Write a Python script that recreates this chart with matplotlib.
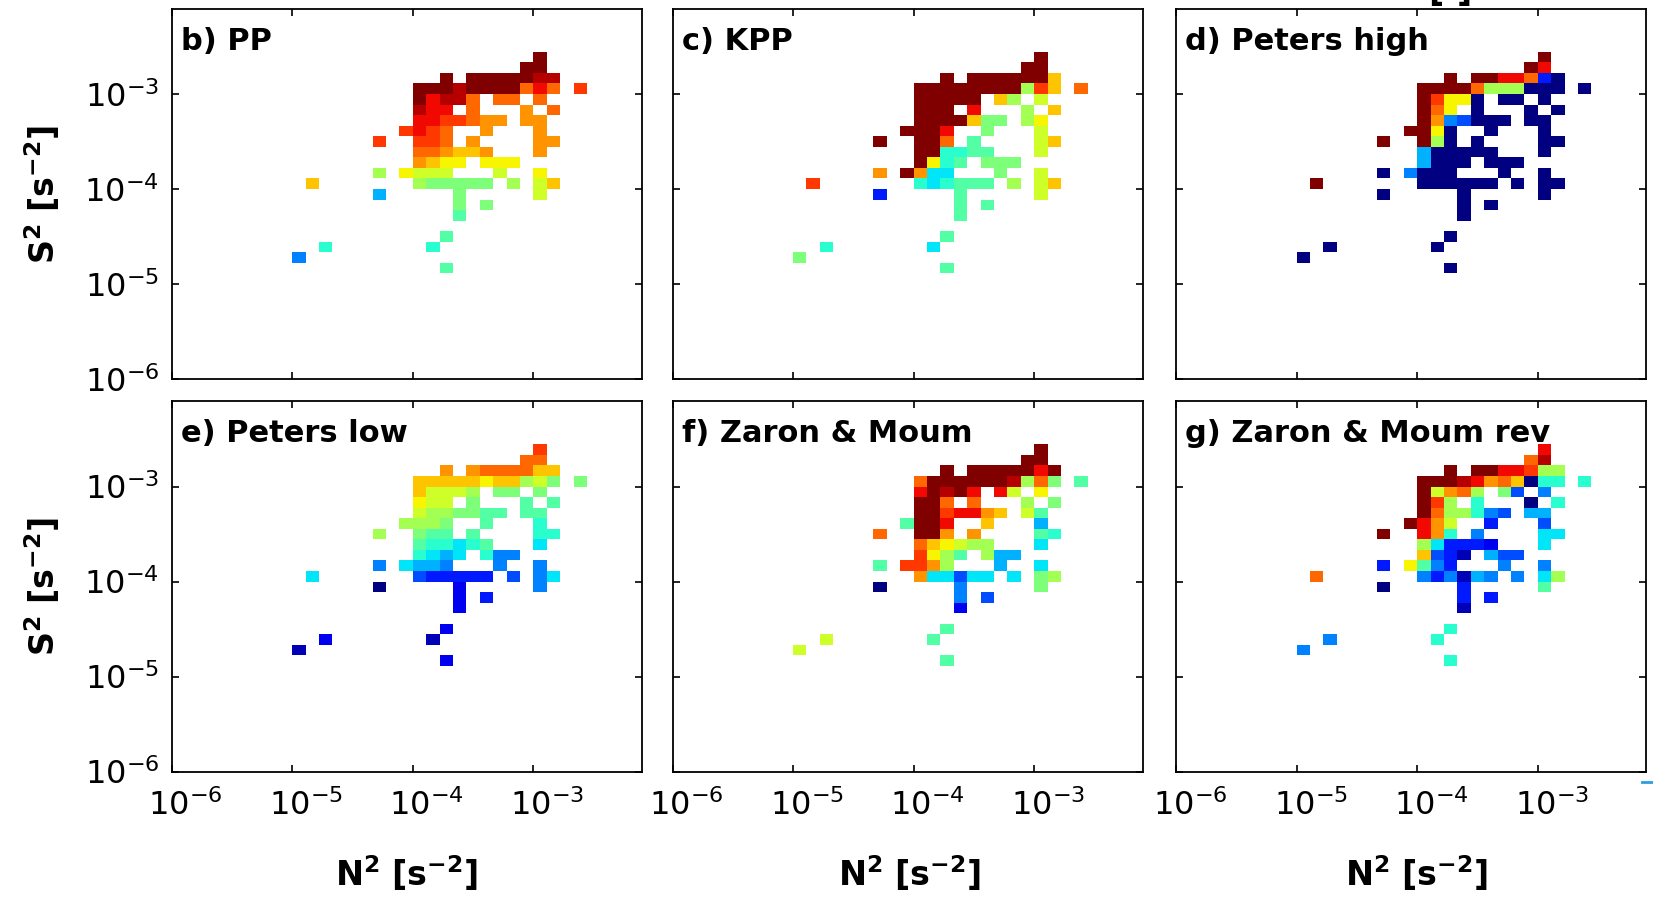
import numpy as np
import matplotlib
matplotlib.use('Agg')
import matplotlib.pyplot as plt
import matplotlib.transforms as mtrans
from matplotlib.lines import Line2D
from matplotlib.ticker import NullLocator

plt.rcParams['font.family'] = 'DejaVu Sans'
plt.rcParams['mathtext.fontset'] = 'dejavusans'

##############
##  Data    ##
##############
# bins are log10 spaced, 9 per decade: edge k -> 10**(-6 + k/9)
# columns are N2 bins k=9..30, rows are S2 bins k=30 (top) .. k=10 (bottom)
# each character is the colour level 0..K (base 36, divided by 20 -> 0..1 on jet), '.' = empty bin
col_bins = np.arange(9, 32)
row_bins = np.arange(10, 32)

pp = ["..................K...",
      ".................KK...",
      "...........K.KKKKKJJ..",
      ".........KKKJKKKKGIG.H",
      ".........KIJJG.GG.G...",
      ".........JII.G...F.G..",
      ".........IIHHGFF.FF...",
      "........HIHG..F...F...",
      "......H..HHG.F....FF..",
      ".........GGFEEF...F...",
      ".........FEDD.DDD.....",
      "......B.DCCC...C..D...",
      ".E.......BAAAAA.B.CE..",
      "......6.....A.....C...",
      "............A.A.......",
      "............9.........",
      "......................",
      "...........9..........",
      "..8.......8...........",
      "5.....................",
      "...........9.........."]

kpp = ["..................K...",
       ".................KK...",
       "...........K.KKKKKKE..",
       ".........KKKKKKKKBHE.G",
       ".........KKKKK.EB.C...",
       ".........KKK.I...B.E..",
       ".........KKKKEAA.BD...",
       "........KKKI..A...C...",
       "......K..KKG.9....CE..",
       ".........KK8899...C...",
       ".........KD89.AAA.....",
       "......F.KF77...A..C...",
       ".H.......878999.B.CE..",
       "......3.....9.....C...",
       "............9.9.......",
       "............9.........",
       "......................",
       "...........9..........",
       "..8.......7...........",
       "A.....................",
       "...........9.........."]

peters_high = ["..................K...",
               ".................KI...",
               "...........K.KKIIG30..",
               ".........KKKKGBBB000.0",
               ".........KHDD0.00.0...",
               ".........KGD.0...0.0..",
               ".........KF54000.00...",
               "........KKD0..0...0...",
               "......K..KB0.0....00..",
               ".........600000...0...",
               ".........6000.000.....",
               "......0.5000...0..0...",
               ".K.......000000.0.00..",
               "......0.....0.....0...",
               "............0.0.......",
               "............0.........",
               "......................",
               "...........0..........",
               "..0.......0...........",
               "0.....................",
               "...........0.........."]

peters_low = ["..................H...",
              ".................GG...",
              "...........F.FGGGGEE..",
              ".........EEEEEDEEBCA.A",
              ".........ECCCB.AA.A...",
              ".........DCC.A...9.9..",
              ".........CBBAA99.99...",
              "........BBBA..9...8...",
              "......B..A99.9....88..",
              ".........988789...7...",
              ".........8767.855.....",
              "......5.7665...5..5...",
              ".7.......433333.4.57..",
              "......0.....2.....5...",
              "............2.3.......",
              "............2.........",
              "......................",
              "...........2..........",
              "..2.......1...........",
              "1.....................",
              "...........2.........."]

zaron_moum = ["..................K...",
              ".................KK...",
              "...........K.KKKKKIK..",
              ".........GKKKKKKJBGA.9",
              ".........IKJKI.IC.D...",
              ".........KKG.G...B.A..",
              ".........KKHIIFE.C9...",
              "........9KKI..E...6...",
              "......G..KKF.F....98..",
              ".........GEDCBB...7...",
              ".........HDB9.B66.....",
              "......9.HHFB...6..7...",
              ".........F77477.7.AB..",
              "......0.....5.....A...",
              "............5.4.......",
              "............2.........",
              "......................",
              "...........9..........",
              "..C.......9...........",
              "C.....................",
              "...........9.........."]

zaron_moum_rev = ["..................I...",
                  ".................GJ...",
                  "...........K.KKIIHBB..",
                  ".........KKKJIFGE088.8",
                  ".........KCFGB.A4.5...",
                  ".........KHB.8...0.8..",
                  ".........KGBB854.66...",
                  "........KIFC..3...4...",
                  "......K..IF8.5....77..",
                  ".........B73332...7...",
                  ".........E431.644.....",
                  "......3.D953...5..5...",
                  ".G.......535165.5.7B..",
                  "......0.....3.....9...",
                  "............3.3.......",
                  "............1.........",
                  "......................",
                  "...........8..........",
                  "..5.......8...........",
                  "5.....................",
                  "...........8.........."]

titles = ['b) PP', 'c) KPP', 'd) Peters high', 'e) Peters low', 'f) Zaron & Moum', 'g) Zaron & Moum rev']
grids = [pp, kpp, peters_high, peters_low, zaron_moum, zaron_moum_rev]
tick_values = [1e-6, 1e-5, 1e-4, 1e-3]


def to_array(rows):
    z = np.full((len(rows), len(rows[0])), np.nan)
    for r, line in enumerate(rows):
        for c, ch in enumerate(line):
            if ch != '.':
                z[r, c] = int(ch, 36) / 20.
    return np.ma.masked_invalid(z[::-1])  # bottom row first for pcolormesh


xedges = 10 ** (-6 + col_bins / 9.)
yedges = 10 ** (-6 + row_bins / 9.)

############
##Plotting##
############
W, H = 1653, 908
fig = plt.figure(figsize=(W / 100., H / 100.), dpi=100)

lefts = [171.7, 672.5, 1176.0]
bottoms = [379.0, 771.5]
aw, ah = 470.3, 370.5
shift = mtrans.ScaledTranslation(14 / 100., 0, fig.dpi_scale_trans)

for n, (title, grid) in enumerate(zip(titles, grids)):
    r, c = divmod(n, 3)
    ax = fig.add_axes([lefts[c] / W, 1 - bottoms[r] / H, aw / W, ah / H])
    ax.pcolormesh(xedges, yedges, to_array(grid), cmap='jet', vmin=0, vmax=1, shading='flat')
    ax.set_xscale('log')
    ax.set_yscale('log')
    ax.set_xlim(1e-6, 10 ** -2.1)
    ax.set_ylim(1e-6, 10 ** -2.1)
    ax.set_xticks(tick_values)
    ax.set_yticks(tick_values)
    ax.xaxis.set_minor_locator(NullLocator())
    ax.yaxis.set_minor_locator(NullLocator())
    ax.tick_params(direction='in', length=5, width=1.2, top=True, right=True, labelsize=23,
                   labelbottom=(r == 1), labelleft=(c == 0))
    ax.tick_params(axis='x', pad=13)
    ax.tick_params(axis='y', pad=9)
    for lab in ax.get_xticklabels():
        lab.set_transform(lab.get_transform() + shift)
    for sp in ax.spines.values():
        sp.set_linewidth(1.3)
    ax.text(0.02, 0.912, title, transform=ax.transAxes, fontsize=22, fontweight='bold',
            ha='left', va='center')

# axis labels
for yc in [194.0, 586.5]:
    fig.text(42 / W, 1 - yc / H, r'$\mathbf{S^2\ [s^{-2}]}$', rotation=90,
             ha='center', va='center', fontsize=24)
for xc in [406, 909, 1416]:
    fig.text(xc / W, 1 - 873 / H, r'$\mathbf{N^2\ [s^{-2}]}$',
             ha='center', va='center', fontsize=24)

# bits of neighbouring figure cut at the edges, as in the original
fig.text(1450 / W, 1 - 1 / H, '[-]', ha='center', va='baseline', fontsize=24, fontweight='bold')
fig.add_artist(Line2D([1642 / W, 1.0], [1 - 782 / H, 1 - 782 / H], color='#2a9fe0', lw=2))

fig.savefig('out.png', dpi=100)
